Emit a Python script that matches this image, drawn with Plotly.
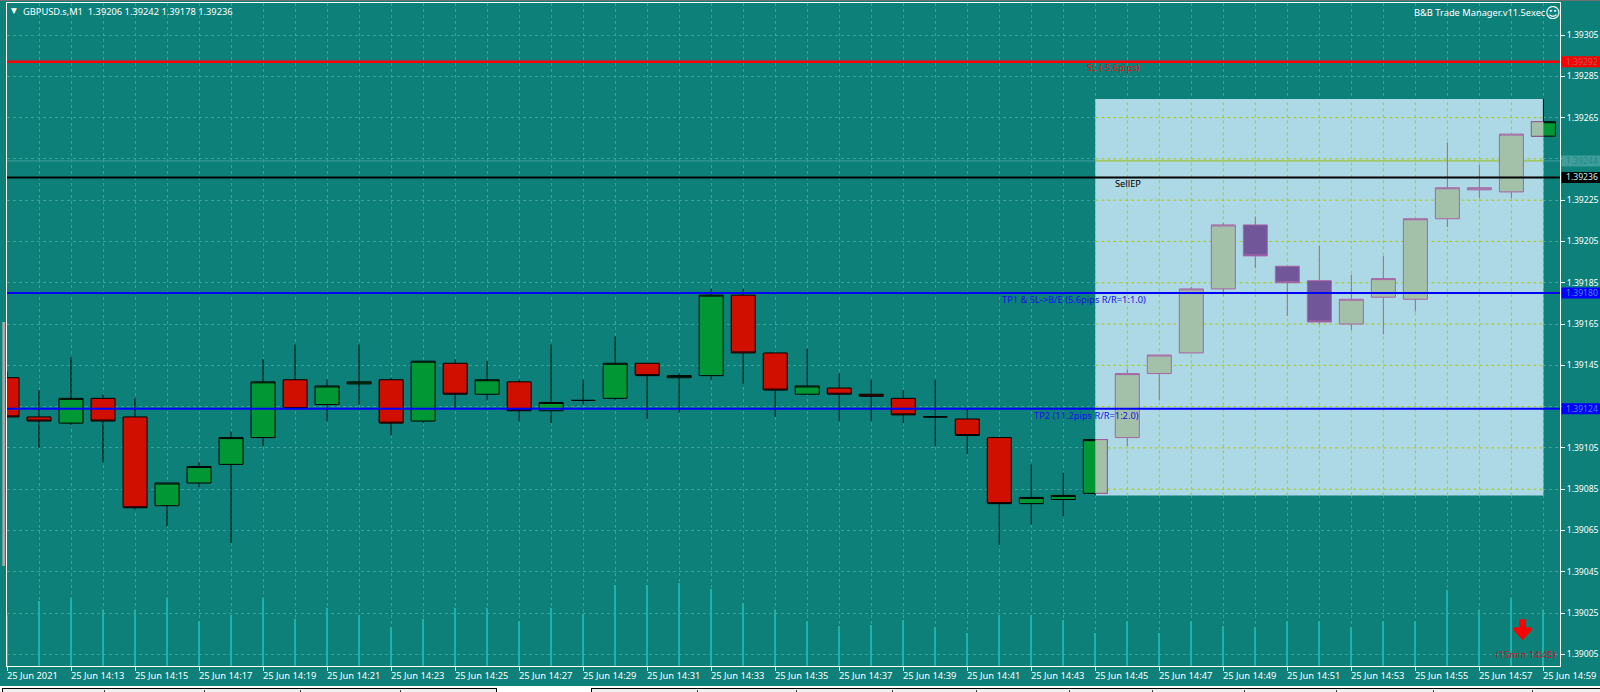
import plotly.graph_objects as go
import datetime as dt

times = ["2021-06-25 14:%02d" % m for m in range(11, 60)]
opens = [1.39139,1.39120,1.39117,1.39129,1.39120,1.39077,1.39088,1.39097,1.39110,1.39138,
         1.39126,1.39136,1.39138,1.39118,1.39146,1.39131,1.39137,1.39123,1.39128,1.39129,
         1.39146,1.39139,1.39140,1.39179,1.39151,1.39131,1.39134,1.39131,1.39129,1.39120,
         1.39119,1.39110,1.39078,1.39080,1.39083,1.39110,1.39141,1.39151,1.39182,1.39213,
         1.39193,1.39186,1.39165,1.39178,1.39177,1.39216,1.39230,1.39229,1.39256]
closes = [1.39120,1.39118,1.39129,1.39118,1.39076,1.39088,1.39096,1.39110,1.39137,1.39124,
          1.39135,1.39137,1.39117,1.39147,1.39131,1.39138,1.39123,1.39127,1.39128,1.39146,
          1.39140,1.39140,1.39179,1.39151,1.39133,1.39135,1.39131,1.39130,1.39121,1.39120,
          1.39111,1.39078,1.39081,1.39082,1.39109,1.39141,1.39150,1.39182,1.39213,1.39198,
          1.39185,1.39166,1.39177,1.39187,1.39216,1.39231,1.39231,1.39257,1.39263]
highs = [1.39142,1.39133,1.39149,1.39131,1.39129,1.39088,1.39098,1.39113,1.39148,1.39155,
         1.39138,1.39155,1.39139,1.39147,1.39148,1.39147,1.39138,1.39155,1.39138,1.39159,
         1.39146,1.39141,1.39182,1.39182,1.39151,1.39153,1.39141,1.39138,1.39133,1.39138,
         1.39124,1.39110,1.39097,1.39093,1.39109,1.39143,1.39150,1.39183,1.39214,1.39217,
         1.39193,1.39203,1.39189,1.39198,1.39216,1.39253,1.39242,1.39257,1.39274]
lows = [1.39120,1.39105,1.39116,1.39098,1.39075,1.39067,1.39086,1.39059,1.39106,1.39124,
        1.39118,1.39126,1.39111,1.39117,1.39124,1.39128,1.39118,1.39117,1.39126,1.39128,
        1.39119,1.39122,1.39138,1.39136,1.39120,1.39131,1.39118,1.39118,1.39117,1.39106,
        1.39102,1.39058,1.39068,1.39072,1.39082,1.39106,1.39128,1.39151,1.39179,1.39192,
        1.39169,1.39165,1.39162,1.39160,1.39171,1.39212,1.39226,1.39226,1.39256]
volumes = [51,65,68,56,56,68,45,51,68,47,58,51,39,47,58,58,45,58,52,81,81,83,77,63,56,
           45,40,41,46,39,33,51,51,46,33,45,33,45,40,39,45,45,39,45,45,76,56,68,56]

price_ticks = [1.39305,1.39285,1.39265,1.39245,1.39225,1.39205,1.39185,1.39165,
               1.39145,1.39125,1.39105,1.39085,1.39065,1.39045,1.39025,1.39005]
price_tick_labels = ["1.39305","1.39285","1.39265","","1.39225","1.39205","1.39185","1.39165",
                     "1.39145","","1.39105","1.39085","1.39065","1.39045","1.39025","1.39005"]
time_tick_labels = ["25 Jun 2021"] + ["25 Jun 14:%02d" % m for m in range(13, 60, 2)]
time_ticks = times[::2]

level_prices = [1.39292, 1.39244, 1.39236, 1.39180, 1.39124]
level_tags = ["1.39292", "1.39244", "1.39236", "1.39180", "1.39124"]
zone_start, zone_end = "2021-06-25 14:45", "2021-06-25 14:59"
zone_low, zone_high = 1.39082, 1.39274

BG = "#0E807A"; GRID = "#3F9E9B"; VOL = "#20B2AA"; WHITE = "#FFFFFF"
UP = "#029735"; DOWN = "#D10F00"
ZONE = "#ADD8E6"; ZGRID = "#A8D000"; ZUP = "#A3C0A8"; ZDOWN = "#72569A"; ZLINE = "#A864A8"
FONT = "Noto Sans"; FS = 9.3; FS_PRICE = 8.6

L, R, T, B = 7, 1560, 3, 666
W, H = R - L, B - T
X = lambda px: (px - L) / W
Y = lambda py: (B - py) / H
PX_PER_PRICE = 2.0645 / 1e-5
Y0 = 1.39305 + (35 - T) / PX_PER_PRICE
Y1 = 1.39305 - (B - 35) / PX_PER_PRICE
XRANGE = ["2021-06-25 14:11:00", "2021-06-25 14:59:31.1"]

fig = go.Figure()

# trade zone + its grid, on the base price axis
fig.add_trace(go.Scatter(x=[zone_start, zone_end, zone_end, zone_start, zone_start],
                         y=[zone_low, zone_low, zone_high, zone_high, zone_low],
                         mode="lines", line=dict(width=0), fill="toself", fillcolor=ZONE,
                         hoverinfo="skip", showlegend=False))
for p in price_ticks:
    if zone_low < p < zone_high:
        fig.add_trace(go.Scatter(x=[zone_start, zone_end], y=[p, p], mode="lines",
                                 line=dict(color=ZGRID, width=1, dash="3px,3px"),
                                 hoverinfo="skip", showlegend=False))
for t in times[35:48]:
    fig.add_trace(go.Scatter(x=[t, t], y=[zone_low, zone_high], mode="lines",
                             line=dict(color=ZGRID, width=1, dash="3px,3px"),
                             hoverinfo="skip", showlegend=False))

# level line through the zone
fig.add_trace(go.Scatter(x=[zone_start, zone_end], y=[level_prices[1]] * 2, mode="lines",
                         line=dict(color="#98C010", width=1), hoverinfo="skip", showlegend=False))

# volume
fig.add_trace(go.Bar(x=times, y=volumes, width=2300, marker=dict(color=VOL, line=dict(width=0)),
                     yaxis="y2", hoverinfo="skip", showlegend=False))

# candles outside the zone (and the last one, which sits half out)
out = list(range(0, 35)) + [48]
ins = list(range(35, 48))
pick = lambda a, idx: [a[i] for i in idx]
fig.add_trace(go.Candlestick(
    x=pick(times, out), open=pick(opens, out), high=pick(highs, out),
    low=pick(lows, out), close=pick(closes, out), yaxis="y3", showlegend=False,
    increasing=dict(fillcolor=UP, line=dict(color="#000000", width=1)),
    decreasing=dict(fillcolor=DOWN, line=dict(color="#000000", width=1))))
fig.add_trace(go.Candlestick(
    x=pick(times, ins), open=pick(opens, ins), high=pick(highs, ins),
    low=pick(lows, ins), close=pick(closes, ins), yaxis="y3", showlegend=False,
    increasing=dict(fillcolor=ZUP, line=dict(color=ZLINE, width=1)),
    decreasing=dict(fillcolor=ZDOWN, line=dict(color=ZLINE, width=1))))

# half candles where the zone edge cuts a bar
HALF = 22500
def shift(t, ms):
    d = dt.datetime.strptime(t, "%Y-%m-%d %H:%M") + dt.timedelta(milliseconds=ms)
    return d.strftime("%Y-%m-%d %H:%M:%S.%f")
for i, sign in [(34, 1), (48, -1)]:
    c, e = shift(times[i], 0), shift(times[i], sign * HALF)
    lo, hi = min(opens[i], closes[i]), max(opens[i], closes[i])
    fig.add_trace(go.Scatter(x=[c, e, e, c, c], y=[lo, lo, hi, hi, lo], mode="lines",
                             line=dict(width=0), fill="toself", fillcolor=ZUP, yaxis="y3",
                             hoverinfo="skip", showlegend=False))
    fig.add_trace(go.Scatter(x=[c, e, e, c], y=[lo, lo, hi, hi], mode="lines",
                             line=dict(color=ZLINE, width=1), yaxis="y3",
                             hoverinfo="skip", showlegend=False))

shapes = []
def hline(price, color, width=2):
    shapes.append(dict(type="line", xref="paper", x0=0, x1=1, yref="y", y0=price, y1=price,
                       line=dict(color=color, width=width), layer="above"))
hline(level_prices[0], "#FF0000", 2.5)
shapes.append(dict(type="line", xref="x", x0=XRANGE[0], x1=zone_start, yref="y",
                   y0=level_prices[1], y1=level_prices[1], line=dict(color="#3F9E9B", width=1)))
shapes.append(dict(type="line", xref="x", x0=zone_end, x1=XRANGE[1], yref="y",
                   y0=level_prices[1], y1=level_prices[1], line=dict(color="#3F9E9B", width=1)))
hline(level_prices[2], "#000000")
hline(level_prices[3], "#0000FF")
hline(level_prices[4], "#0000FF")

# red signal arrow
shapes.append(dict(type="path", xsizemode="pixel", ysizemode="pixel", xref="x", yref="y",
                   xanchor="2021-06-25 14:58:21", yanchor=1.39022,
                   path="M -3.3 0 L 3.3 0 L 3.3 -8 L 9 -8 L 9 -11 L 0 -21 L -9 -11 L -9 -8 L -3.3 -8 Z",
                   fillcolor="#FF0000", line=dict(width=0), layer="above"))

# window chrome
def prect(x0, y0, x1, y1, color):
    shapes.append(dict(type="rect", xref="paper", yref="paper", x0=X(x0), x1=X(x1),
                       y0=Y(y1), y1=Y(y0), fillcolor=color, line=dict(width=0), layer="above"))
prect(0, 0, 1600, 1, "#707070")
prect(2.3, 322, 5, 566, "#A8A8A8")
prect(0, 686, 1600, 692, "#FFFFFF")
prect(2, 688, 497, 692, "#000000")
prect(3, 689, 496, 692, "#F0F0F0")
prect(591, 688, 1600, 692, "#000000")
prect(592, 689, 1600, 692, "#F0F0F0")
for tx in [104, 204, 300, 400, 697, 796, 892, 976, 1069, 1152, 1244, 1336, 1433, 1532]:
    prect(tx, 690, tx + 1, 692, "#404040")

ann = []
def note(x, y, text, color, size=FS, xanchor="left", xref="paper", yref="paper", **kw):
    ann.append(dict(x=x, y=y, xref=xref, yref=yref, text=text, showarrow=False,
                    xanchor=xanchor, yanchor="middle",
                    font=dict(family=kw.pop("family", FONT), size=size, color=color), **kw))

for t, lab in zip(time_ticks, time_tick_labels):
    note(t, Y(675), lab, WHITE, xref="x", xshift=-2)

# level tags on the price axis: a coloured box and its text
tag_styles = [("#FF0000", "#A86060"), ("#3F9E9B", "#1F8A86"), ("#000000", "#C8F0F0"),
              ("#0000FF", "#4C86D8"), ("#0000FF", "#4C86D8")]
TAG_HALF = 5.5 / PX_PER_PRICE
for p, lab, (bg, fg) in zip(level_prices, level_tags, tag_styles):
    shapes.append(dict(type="rect", xref="paper", yref="y", x0=X(1561.5), x1=X(1600),
                       y0=p - TAG_HALF, y1=p + TAG_HALF, fillcolor=bg, line=dict(width=0),
                       layer="above"))
    note(X(1600), p, lab, fg, size=FS_PRICE, yref="y", xanchor="right")

note(X(20.5), Y(11.7), "GBPUSD.s,M1  1.39206 1.39242 1.39178 1.39236", WHITE)
note(X(9), Y(11), "▼", WHITE, size=7.5, family="DejaVu Sans")
note(X(1412), Y(13), "B&amp;B Trade Manager.v11.5exec", WHITE)
note(X(1543), Y(13), "☺", WHITE, size=15, family="DejaVu Sans")
note(X(1142), Y(67.7), "SL (-5.6pips)", "#E01010", xanchor="right")
note(X(1112.5), Y(183.3), "SellEP", "#000000")
note(X(1148), Y(299), "TP1 &amp; SL-&gt;B/E (5.6pips R/R=1:1.0)", "#1010E8", xanchor="right")
note(X(1141), Y(415), "TP2 (11.2pips R/R=1:2.0)", "#1010E8", xanchor="right")
note(X(1557), Y(654), "(15min 14:45)", "#C81020", xanchor="right")

fig.update_layout(
    width=1600, height=692, autosize=False,
    margin=dict(l=L, r=1600 - R, t=T, b=692 - B, pad=0, autoexpand=False),
    paper_bgcolor=BG, plot_bgcolor=BG, showlegend=False,
    boxgap=0.25, boxgroupgap=0, bargap=0, barmode="overlay",
    shapes=shapes, annotations=ann, hovermode=False,
    xaxis=dict(type="date", range=XRANGE, rangeslider=dict(visible=False),
               tickmode="array", tickvals=time_ticks, showticklabels=False,
               ticks="outside", ticklen=4, tickcolor=WHITE, tickwidth=1,
               showgrid=False, zeroline=False,
               showline=True, linecolor=WHITE, linewidth=1, mirror=True,
               minor=dict(tickmode="array", tickvals=times, showgrid=True, gridcolor=GRID,
                          griddash="3px,3px", gridwidth=1, ticks="")),
    yaxis=dict(range=[Y1, Y0], side="right", tickmode="array", tickvals=price_ticks,
               ticktext=price_tick_labels,
               tickfont=dict(family=FONT, size=FS_PRICE, color=WHITE),
               ticks="outside", ticklen=4, tickcolor=WHITE, tickwidth=1,
               showgrid=True, gridcolor=GRID, griddash="3px,3px", gridwidth=1, zeroline=False,
               showline=True, linecolor=WHITE, linewidth=1, mirror=True),
    yaxis2=dict(range=[0, H], overlaying="y", visible=False, showgrid=False),
    yaxis3=dict(range=[Y1, Y0], overlaying="y", visible=False, showgrid=False),
)

fig.write_html("out.html", config=dict(displayModeBar=False),
               post_script="document.body.style.margin='0';document.documentElement.style.background='%s';" % BG)
